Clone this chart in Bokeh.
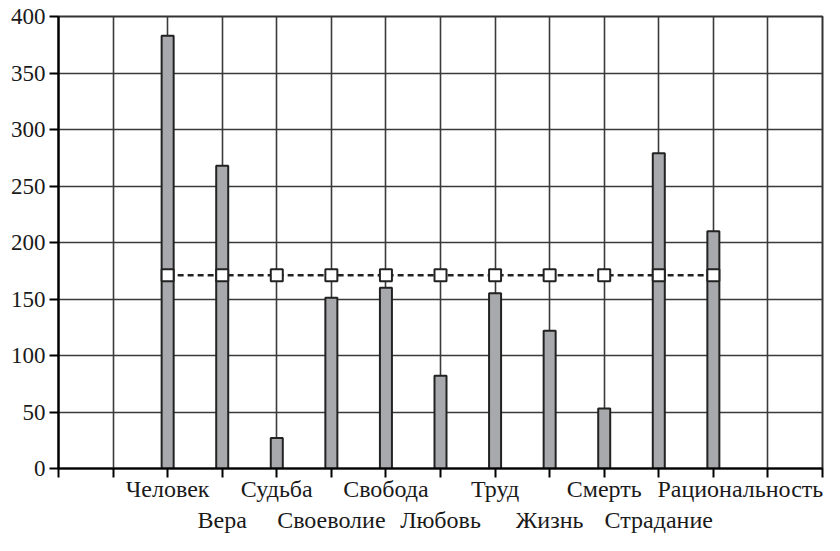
from bokeh.plotting import figure
from bokeh.models import FixedTicker, LinearAxis, Range1d
from bokeh.embed import file_html
from bokeh.resources import INLINE

categories = ["Человек", "Вера", "Судьба", "Своеволие", "Свобода", "Любовь",
              "Труд", "Жизнь", "Смерть", "Страдание", "Рациональность"]
values = [383, 268, 27, 151, 160, 82, 155, 122, 53, 279, 210]
mean_value = [171] * len(categories)
y_ticks = [0, 50, 100, 150, 200, 250, 300, 350, 400]
n_slots = 14
first_slot = 2

xs = [first_slot + i for i in range(len(categories))]

FONT = "Liberation Serif"

p = figure(width=824, height=535, output_backend="svg", toolbar_location=None,
           x_range=Range1d(0, n_slots), y_range=Range1d(0, 400),
           min_border_left=58, min_border_right=2, min_border_top=16, min_border_bottom=60)
p.background_fill_color = "white"
p.border_fill_color = "white"
p.outline_line_color = "#333333"
p.outline_line_width = 2

# grids
p.xgrid.ticker = FixedTicker(ticks=list(range(n_slots + 1)))
p.ygrid.ticker = FixedTicker(ticks=y_ticks)
for g in (p.xgrid, p.ygrid):
    g.grid_line_color = "#3a3a3a"
    g.grid_line_width = 1.6

# y axis
ya = p.yaxis[0]
ya.ticker = FixedTicker(ticks=y_ticks)
ya.axis_line_color = "black"
ya.axis_line_width = 2.2
ya.major_tick_in = 0
ya.major_tick_out = 9
ya.major_tick_line_width = 2
ya.minor_tick_line_color = None
ya.major_label_text_font = FONT
ya.major_label_text_font_size = "23px"
ya.major_label_text_color = "#1a1a1a"
ya.major_label_standoff = 4

# x axis: two rows of labels
row1 = {xs[i]: categories[i] for i in range(0, len(categories), 2)}
row2 = {xs[i]: categories[i] for i in range(1, len(categories), 2)}
# last label sits a little to the right of its tick, as in the reference
row1[xs[-1]] = "\u00a0" * 9 + categories[-1]

xa = p.xaxis[0]
xa.ticker = FixedTicker(ticks=list(range(n_slots + 1)))
overrides1 = {t: "" for t in range(n_slots + 1)}
overrides1.update(row1)
xa.major_label_overrides = overrides1
xa.axis_line_color = "black"
xa.axis_line_width = 2.2
xa.major_tick_in = 0
xa.major_tick_out = 9
xa.major_tick_line_width = 2
xa.minor_tick_line_color = None
xa.major_label_text_font = FONT
xa.major_label_text_font_size = "24px"
xa.major_label_text_color = "#1a1a1a"
xa.major_label_standoff = -2

xb = LinearAxis(ticker=FixedTicker(ticks=list(row2.keys())))
xb.major_label_overrides = row2
xb.axis_line_color = None
xb.major_tick_line_color = None
xb.major_tick_in = 0
xb.major_tick_out = 0
xb.minor_tick_line_color = None
xb.minor_tick_out = 0
xb.major_label_text_font = FONT
xb.major_label_text_font_size = "24px"
xb.major_label_text_color = "#1a1a1a"
xb.major_label_standoff = 2
p.add_layout(xb, "below")

# bars
p.vbar(x=xs, top=values, width=0.22, bottom=0,
       fill_color="#a8a9ac", line_color="#222222", line_width=2)

# mean line
p.line(xs, mean_value, line_color="#222222", line_width=2.3, line_dash="6 4")
p.scatter(xs, mean_value, marker="square", size=12, fill_color="white",
          line_color="#222222", line_width=2)

open("out.html", "w").write(file_html(p, INLINE))
